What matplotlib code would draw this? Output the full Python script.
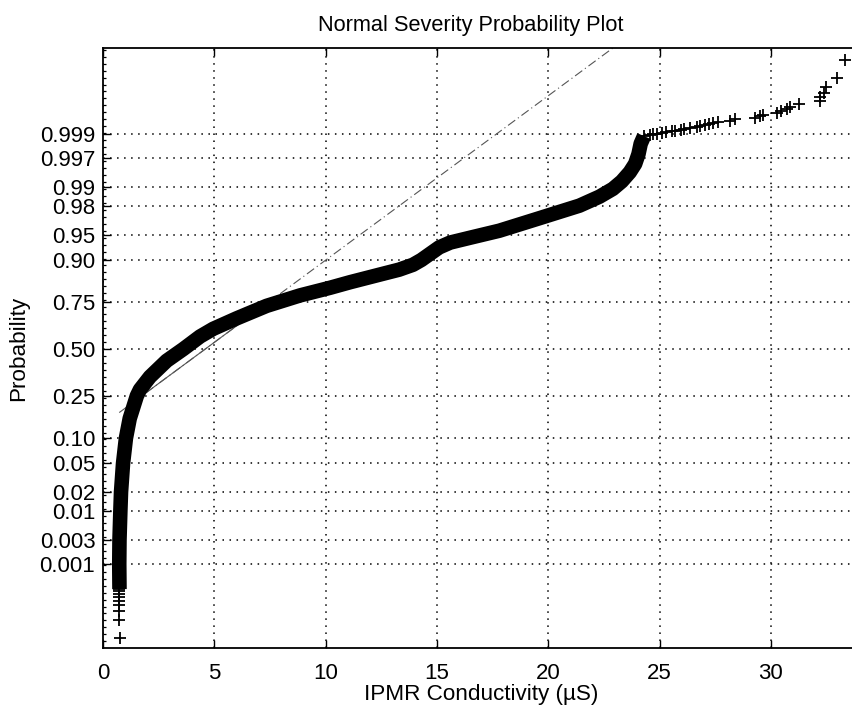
import numpy as np
import matplotlib
matplotlib.use("Agg")
import matplotlib.pyplot as plt
from matplotlib.ticker import FixedLocator, FixedFormatter
from statistics import NormalDist

plt.rcParams['font.family'] = ['Liberation Sans', 'DejaVu Sans']

# ---- data -------------------------------------------------------------
sample_size = 30000

# lowest individual observations (µS), ascending rank
low_tail_x = [0.76, 0.74, 0.73, 0.74, 0.73, 0.74, 0.73, 0.74]

# dense body of the sample: value (µS) and cumulative probability
bulk_x = [0.74, 0.73, 0.74, 0.78, 0.81, 0.90, 1.03, 1.20, 1.52, 1.66, 2.11,
          2.86, 3.61, 4.36, 4.95, 6.00, 6.60, 7.35, 8.85, 10.2, 11.1, 12.44,
          13.3, 13.92, 14.3, 14.7, 15.1, 15.6, 16.5, 17.8, 19.6, 21.4, 22.3,
          22.9, 23.3, 23.66, 23.9, 24.05, 24.15, 24.3]
bulk_p = [0.00028, 0.001, 0.003, 0.01, 0.02, 0.05, 0.10, 0.159, 0.25, 0.28,
          0.345, 0.433, 0.50, 0.5714, 0.6141, 0.6700, 0.6985, 0.7324, 0.7794,
          0.8106, 0.8315, 0.8577, 0.8729, 0.8869, 0.8997, 0.9147, 0.9279,
          0.9370, 0.9452, 0.9554, 0.9699, 0.9803, 0.9857, 0.9893, 0.9920,
          0.99446, 0.99609, 0.99744, 0.99841, 0.99889]

# highest individual observations (µS), ascending
high_tail_x = [24.56, 24.7, 24.9, 25.09, 25.3, 25.54, 25.7, 25.98, 26.1,
               26.36, 26.66, 26.8, 27.03, 27.2, 27.4, 27.63, 28.15, 28.38,
               29.28, 29.5, 29.65, 30.25, 30.47, 30.7, 30.85, 31.27, 32.2,
               32.2, 32.4, 32.46, 32.97, 33.32]

# first and third quartiles used for the reference line
quartile_x = [1.74, 7.45]

prob_ticks = [0.001, 0.003, 0.01, 0.02, 0.05, 0.10, 0.25, 0.50, 0.75,
              0.90, 0.95, 0.98, 0.99, 0.997, 0.999]
prob_labels = ['0.001', '0.003', '0.01', '0.02', '0.05', '0.10', '0.25',
               '0.50', '0.75', '0.90', '0.95', '0.98', '0.99', '0.997', '0.999']
x_ticks = [0, 5, 10, 15, 20, 25, 30]

# ---- normal probability scale ----------------------------------------
_nd = NormalDist()
_ppf = np.vectorize(_nd.inv_cdf, otypes=[float])
_cdf = np.vectorize(_nd.cdf, otypes=[float])


def to_z(p):
    p = np.clip(np.asarray(p, dtype=float), 1e-13, 1 - 1e-13)
    return _ppf(p)


def to_p(z):
    return _cdf(np.asarray(z, dtype=float))


fig = plt.figure(figsize=(8.52, 7.11), dpi=100)
ax = fig.add_axes([103 / 852, 1 - 648 / 711, (860 - 103) / 852, (648 - 48) / 711])
ax.set_yscale('function', functions=(to_z, to_p))

# reference line through the quartiles
qz = np.array([_nd.inv_cdf(0.25), _nd.inv_cdf(0.75)])
slope = (qz[1] - qz[0]) / (quartile_x[1] - quartile_x[0])
x_lo, x_hi = min(low_tail_x), max(high_tail_x)
ext_x = np.array([x_lo, x_hi])
ext_z = qz[0] + slope * (ext_x - quartile_x[0])
ax.plot(ext_x, to_p(np.clip(ext_z, -7, 7)), linestyle=(0, (8, 3, 1, 3)),
        color='#555555', lw=0.8, zorder=2)
ax.plot(quartile_x, [0.25, 0.75], '-', color='#555555', lw=0.8, zorder=2)

# sample points
low_p = (np.arange(1, len(low_tail_x) + 1) - 0.5) / sample_size
high_p = (np.arange(sample_size - len(high_tail_x) + 1, sample_size + 1) - 0.5) / sample_size

ax.plot(bulk_x, bulk_p, '-', color='k', lw=10.5, solid_capstyle='butt',
        solid_joinstyle='round', zorder=3)
mk = dict(linestyle='none', marker='+', color='k', ms=9, mew=1.3, zorder=4)
ax.plot(bulk_x, bulk_p, **mk)
ax.plot(low_tail_x, low_p, **mk)
ax.plot(high_tail_x, high_p, **mk)

# ---- axes cosmetics --------------------------------------------------
ax.set_xlim(0, 34)
ax.set_ylim(to_p(-4.296), to_p(4.325))
ax.xaxis.set_major_locator(FixedLocator(x_ticks))
ax.yaxis.set_major_locator(FixedLocator(prob_ticks))
ax.yaxis.set_major_formatter(FixedFormatter(prob_labels))
minor_z = np.arange(-4.2, 4.31, 0.1)
ax.yaxis.set_minor_locator(FixedLocator(list(to_p(minor_z))))

ax.tick_params(axis='both', which='major', direction='in', length=5.5,
               width=1.0, labelsize=16, top=True, right=True)
ax.tick_params(axis='y', which='major', pad=5.5)
ax.tick_params(axis='x', which='major', pad=10.5)
ax.tick_params(axis='y', which='minor', direction='in', length=2.5,
               width=0.9, left=True, right=True)
ax.tick_params(axis='x', which='minor', bottom=False, top=False)

ax.grid(True, which='major', color='k', linestyle=(0, (1, 3.6)), linewidth=1.1)
for s in ax.spines.values():
    s.set_linewidth(1.3)

ax.set_title('Normal Severity Probability Plot', fontsize=15.7, pad=12,
             x=(471 - 103) / 757)
ax.set_xlabel('IPMR Conductivity (µS)', fontsize=16.2, labelpad=0)
ax.set_ylabel('Probability', fontsize=16.2, labelpad=7.5)

fig.savefig('out.png', dpi=100)
